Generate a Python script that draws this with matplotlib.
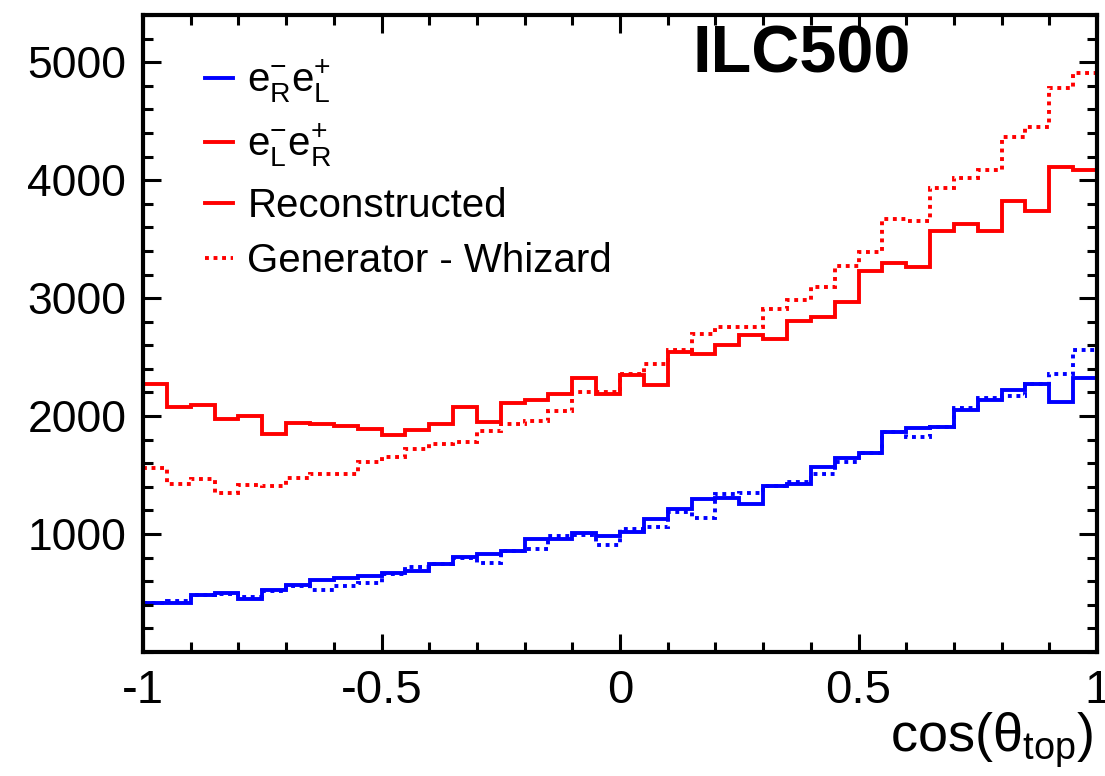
import numpy as np
import matplotlib
matplotlib.use("Agg")
import matplotlib.pyplot as plt
from matplotlib.lines import Line2D

# --- histogram contents (40 bins in cos(theta_top)) ---
x_range = (-1.0, 1.0)
n_bins = 40

# e-_L e+_R, reconstructed (red solid)
lr_reco = [2274, 2075, 2098, 1976, 2004, 1848, 1939, 1933, 1919, 1891,
           1843, 1882, 1933, 2075, 1948, 2109, 2132, 2183, 2325, 2189,
           2345, 2260, 2543, 2523, 2606, 2685, 2657, 2807, 2841, 2970,
           3230, 3295, 3267, 3565, 3630, 3573, 3820, 3735, 4112, 4084]

# e-_L e+_R, generator level Whizard (red dotted)
lr_gen = [1560, 1428, 1465, 1352, 1417, 1409, 1479, 1513, 1513, 1613,
          1649, 1721, 1763, 1777, 1877, 1933, 1962, 2047, 2204, 2200,
          2359, 2444, 2557, 2694, 2756, 2756, 2904, 2983, 3091, 3272,
          3394, 3670, 3650, 3933, 4018, 4089, 4365, 4452, 4785, 4906]

# e-_R e+_L, reconstructed (blue solid)
rl_reco = [416, 416, 486, 502, 452, 529, 572, 614, 628, 640,
           671, 685, 742, 804, 832, 860, 955, 960, 1011, 985,
           1020, 1125, 1210, 1295, 1309, 1258, 1409, 1423, 1570, 1644,
           1684, 1862, 1896, 1905, 2053, 2132, 2223, 2274, 2123, 2325]

# e-_R e+_L, generator level (blue dotted)
rl_gen = [416, 430, 486, 495, 470, 520, 560, 529, 557, 586,
          660, 722, 742, 793, 756, 855, 869, 980, 990, 906,
          1040, 1060, 1190, 1139, 1338, 1352, 1409, 1437, 1508, 1607,
          1684, 1862, 1820, 1905, 2070, 2155, 2166, 2274, 2359, 2557]

x_ticks = [-1, -0.5, 0, 0.5, 1]
x_ticklabels = ["-1", "-0.5", "0", "0.5", "1"]
y_ticks = [1000, 2000, 3000, 4000, 5000]

# --- style (ROOT-ish) ---
plt.rcParams['font.family'] = ['Liberation Sans', 'DejaVu Sans']
plt.rcParams['mathtext.fontset'] = 'custom'
plt.rcParams['mathtext.rm'] = 'Liberation Sans'
plt.rcParams['mathtext.it'] = 'Liberation Sans'
plt.rcParams['axes.unicode_minus'] = False

BLUE = (0, 0, 1)
RED = (1, 0, 0)
LW = 2.8
DOT = (0, (1, 1.2))

edges = np.linspace(x_range[0], x_range[1], n_bins + 1)

fig = plt.figure(figsize=(11.05, 7.76), dpi=100)
ax = fig.add_axes([0.1294, 0.1598, 0.8634, 0.8209])

ax.stairs(rl_gen, edges, baseline=None, color=BLUE, lw=LW, linestyle=DOT)
ax.stairs(lr_gen, edges, baseline=None, color=RED, lw=LW, linestyle=DOT)
ax.stairs(rl_reco, edges, baseline=None, color=BLUE, lw=LW)
ax.stairs(lr_reco, edges, baseline=None, color=RED, lw=LW)

ax.set_xlim(*x_range)
ax.set_ylim(0, 5400)

# ticks on all four sides, pointing inward
ax.set_xticks(x_ticks)
ax.set_xticklabels(x_ticklabels)
ax.set_xticks(np.arange(-1, 1.001, 0.1), minor=True)
ax.set_yticks(y_ticks)
ax.set_yticks(np.arange(0, 5401, 200), minor=True)
ax.tick_params(which='both', direction='in', top=True, right=True, width=2.2)
ax.tick_params(which='major', length=13)
ax.tick_params(which='minor', length=7)
ax.tick_params(axis='x', labelsize=34, pad=12)
ax.tick_params(axis='y', labelsize=32, pad=12)
for sp in ax.spines.values():
    sp.set_linewidth(3)

# axis title, right-aligned under the axis
ax.text(0.996, -0.092, r'cos($\mathregular{\theta_{top}}$)', transform=ax.transAxes,
        ha='right', va='top', fontsize=39)

ax.text(0.69, 0.91, 'ILC500', transform=ax.transAxes, ha='center',
        va='baseline', fontsize=48, fontweight='bold')

# legend
handles = [Line2D([], [], color=BLUE, lw=LW),
           Line2D([], [], color=RED, lw=LW),
           Line2D([], [], color=RED, lw=LW),
           Line2D([], [], color=RED, lw=LW, linestyle=DOT)]
labels = [r'$\mathregular{e^{-}_{R}e^{+}_{L}}$',
          r'$\mathregular{e^{-}_{L}e^{+}_{R}}$',
          'Reconstructed', 'Generator - Whizard']
ax.legend(handles, labels, loc='upper left', bbox_to_anchor=(0.065, 0.933),
          frameon=False, fontsize=29, handlelength=0.7, handletextpad=0.35,
          labelspacing=0.43, borderpad=0, borderaxespad=0)

fig.savefig('out.png', dpi=100)
